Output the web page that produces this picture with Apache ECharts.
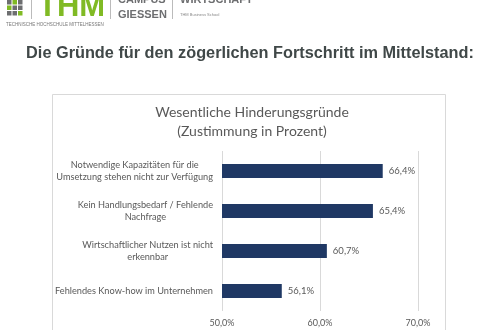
<!DOCTYPE html>
<html>
<head>
<meta charset="utf-8">
<script src="https://cdn.jsdelivr.net/npm/echarts@6/dist/echarts.min.js"></script>
<style>html,body{margin:0;padding:0;background:#fff;}#c{width:500px;height:330px;}</style>
</head>
<body>
<div id="c"></div>
<script>
const categories = [
  "Notwendige Kapazitäten für die\nUmsetzung stehen nicht zur Verfügung",
  "Kein Handlungsbedarf / Fehlende\nNachfrage",
  "Wirtschaftlicher Nutzen ist nicht\nerkennbar",
  "Fehlendes Know-how im Unternehmen"
];
const values = [66.4, 65.4, 60.7, 56.1];
const axisMin = 50, axisMax = 70, axisStep = 10;

const fmt = v => v.toFixed(1).replace('.', ',') + '%';
const chart = echarts.init(document.getElementById('c'), null, {renderer: 'canvas'});
const gray = '#595959';
const logoGray = '#6d6e70';
const green = '#80ba24';
const sq = [];
const sqColors = [
  ['#6d6e70','#80ba24','#6d6e70'],
  ['#80ba24','#6d6e70','#6d6e70'],
  ['#6d6e70','#6d6e70','#80ba24']
];
for (let r = 0; r < 3; r++) for (let c = 0; c < 3; c++) {
  sq.push({type:'rect', left: 7 + c*5.5, top: 0 + r*5.5, shape:{width:4.5,height:4.5}, style:{fill:sqColors[r][c]}});
}
chart.setOption({
  animation: false,
  backgroundColor: '#fff',
  title: [
    {text: 'Die Gründe für den zögerlichen Fortschritt im Mittelstand:', left: 'center', top: 41,
     textStyle:{fontFamily:'Liberation Sans', fontWeight:'bold', fontSize:16.3, color:'#404848'}},
    {text: 'Wesentliche Hinderungsgründe\n(Zustimmung in Prozent)', left: 247, textAlign:'center', top: 98,
     textStyle:{fontFamily:'Lato', fontWeight:'normal', fontSize:14, lineHeight:19, color:gray}}
  ],
  graphic: [
    {type:'rect', left:50, top:92, shape:{width:393, height:260}, style:{fill:'none', stroke:'#d9d9d9', lineWidth:1}, z:-1},
    ...sq,
    {type:'rect', left:31, top:0, shape:{width:1,height:19}, style:{fill:'#bbb'}},
    {type:'text', left:38, top:-8, style:{text:'THM', font:'bold 31px "Liberation Sans"', fill:green}},
    {type:'rect', left:110, top:0, shape:{width:1,height:19}, style:{fill:'#bbb'}},
    {type:'text', left:118, top:-6, style:{text:'CAMPUS', font:'bold 11px "Liberation Sans"', fill:logoGray}},
    {type:'text', left:118, top:9, style:{text:'GIESSEN', font:'bold 11px "Liberation Sans"', fill:logoGray}},
    {type:'rect', left:172, top:0, shape:{width:1,height:19}, style:{fill:'#bbb'}},
    {type:'text', left:180, top:-6, style:{text:'WIRTSCHAFT', font:'bold 11px "Liberation Sans"', fill:logoGray}},
    {type:'text', left:180, top:13, style:{text:'THM Business School', font:'4px "Liberation Sans"', fill:'#888'}},
    {type:'text', left:6, top:22, style:{text:'TECHNISCHE HOCHSCHULE MITTELHESSEN', font:'4.5px "Liberation Sans"', fill:'#777'}}
  ],
  grid: {left: 222, right: 82, top: 151, bottom: 19, containLabel: false},
  xAxis: {
    type: 'value', min: axisMin, max: axisMax, interval: axisStep,
    axisLine: {show: false}, axisTick: {show: false},
    splitLine: {lineStyle: {color: '#d9d9d9', width: 1}},
    axisLabel: {formatter: fmt, color: gray, fontFamily: 'Lato', fontSize: 9, margin: 8}
  },
  yAxis: {
    type: 'category', data: categories, inverse: true,
    axisLine: {show: false}, axisTick: {show: false},
    axisLabel: {
      color: gray, fontFamily: 'Lato', fontSize: 9.2, lineHeight: 12, margin: 9, align: 'right',
      formatter: v => v.split('\n').map(l => '{c|' + l + '}').join('\n'),
      rich: {c: {align: 'center', color: gray, fontFamily: 'Lato', fontSize: 9.2, lineHeight: 12}}
    }
  },
  series: [{
    type: 'bar', data: values, barWidth: 14,
    itemStyle: {color: '#1f3864'},
    label: {show: true, position: 'right', distance: 6, formatter: p => fmt(p.value), color: gray, fontFamily: 'Lato', fontSize: 9.5}
  }]
});
</script>
</body>
</html>
